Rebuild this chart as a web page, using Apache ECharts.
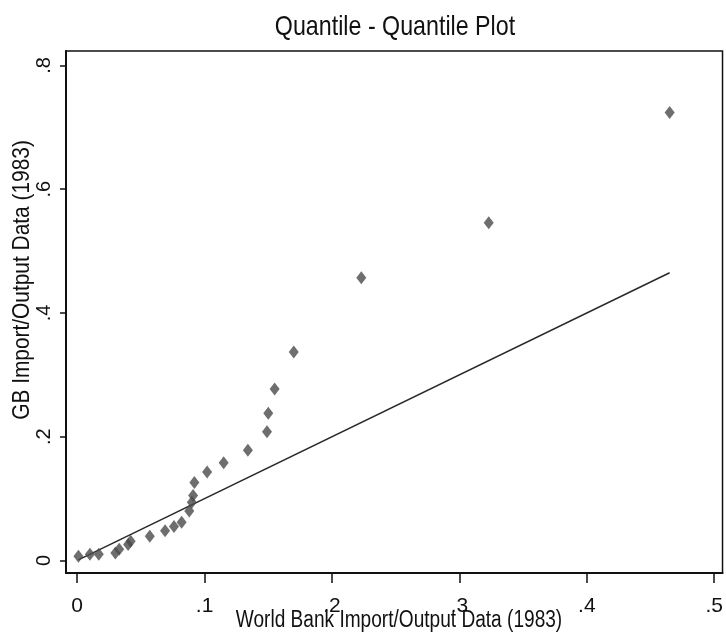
<!DOCTYPE html>
<html>
<head>
<meta charset="utf-8">
<script src="https://cdn.jsdelivr.net/npm/echarts@6/dist/echarts.min.js"></script>
<style>
  html, body { margin: 0; padding: 0; background: #fff; }
  #chart { width: 726px; height: 634px; }
</style>
</head>
<body>
<div id="chart"></div>
<script>
// Sorted quantiles of the two import/output series (1983)
const worldBankQuantiles = [0.001, 0.010, 0.017, 0.030, 0.033, 0.040, 0.042, 0.057, 0.069, 0.076,
  0.082, 0.088, 0.090, 0.091, 0.092, 0.102, 0.115, 0.134, 0.149, 0.150,
  0.155, 0.170, 0.223, 0.323, 0.465];
const gbQuantiles = [0.007, 0.010, 0.010, 0.012, 0.018, 0.026, 0.031, 0.039, 0.048, 0.055,
  0.062, 0.080, 0.094, 0.105, 0.126, 0.143, 0.158, 0.178, 0.208, 0.238,
  0.277, 0.337, 0.457, 0.546, 0.724];

const xTicks = [0, 0.1, 0.2, 0.3, 0.4, 0.5];
const yTicks = [0, 0.2, 0.4, 0.6, 0.8];

const titleText = 'Quantile - Quantile Plot';
const xName = 'World Bank Import/Output Data (1983)';
const yName = 'GB Import/Output Data (1983)';

const FONT = "'Liberation Sans', Arial, sans-serif";

// Stata-style labels: drop the leading zero (".2")
const fmt = v => (v === 0 ? '0' : String(+v.toFixed(2)).replace(/^0\./, '.'));

const points = worldBankQuantiles.map((x, i) => [x, gbQuantiles[i]]);
const lo = worldBankQuantiles[0];
const hi = worldBankQuantiles[worldBankQuantiles.length - 1];
// Reference line y = x across the range of the x quantiles
const refLine = [[lo, lo], [hi, hi]];

const chart = echarts.init(document.getElementById('chart'), null, { renderer: 'canvas' });

chart.setOption({
  backgroundColor: '#ffffff',
  animation: false,
  grid: {
    left: 66, top: 51, right: 1, bottom: 61,
    show: true, borderColor: '#111', borderWidth: 1.5, backgroundColor: 'transparent'
  },
  xAxis: {
    type: 'value',
    min: -0.00875, max: 0.5065,
    splitLine: { show: false },
    axisLine: { show: true, onZero: false, lineStyle: { color: '#111', width: 2 } },
    axisTick: { show: true, customValues: xTicks, length: 10, lineStyle: { color: '#111', width: 1.5 } },
    axisLabel: { customValues: xTicks, formatter: fmt, margin: 23, color: '#111', fontSize: 21, fontFamily: FONT }
  },
  yAxis: {
    type: 'value',
    min: -0.0202, max: 0.8234,
    splitLine: { show: false },
    axisLine: { show: true, onZero: false, lineStyle: { color: '#111', width: 2 } },
    axisTick: { show: true, customValues: yTicks, length: 6, lineStyle: { color: '#111', width: 1.5 } },
    axisLabel: { customValues: yTicks, formatter: fmt, rotate: 90, margin: 12, color: '#111', fontSize: 20, fontFamily: FONT }
  },
  graphic: [
    {
      type: 'text', x: 395, y: 27, scaleX: 0.83,
      style: { text: titleText, fontSize: 28, fontFamily: FONT, fill: '#111', textAlign: 'center', textVerticalAlign: 'middle' }
    },
    {
      type: 'text', x: 399, y: 621, scaleX: 0.83,
      style: { text: xName, fontSize: 23, fontFamily: FONT, fill: '#111', textAlign: 'center', textVerticalAlign: 'middle' }
    },
    {
      type: 'text', x: 22, y: 280, rotation: Math.PI / 2, scaleX: 0.87,
      style: { text: yName, fontSize: 24, fontFamily: FONT, fill: '#111', textAlign: 'center', textVerticalAlign: 'middle' }
    }
  ],
  series: [
    {
      type: 'line',
      data: refLine,
      showSymbol: false,
      symbol: 'none',
      lineStyle: { color: '#2a2a2a', width: 1.5 },
      z: 2
    },
    {
      type: 'scatter',
      data: points,
      symbol: 'diamond',
      symbolSize: [10, 13],
      itemStyle: { color: '#4a4a4a' },
      z: 3
    }
  ]
});
</script>
</body>
</html>
